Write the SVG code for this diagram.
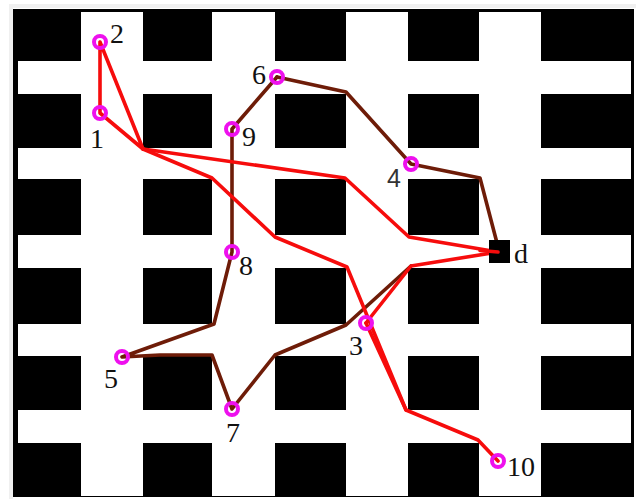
<svg xmlns="http://www.w3.org/2000/svg" width="636" height="499" viewBox="0 0 636 499">
<style>
.b{fill:#000}
.r{fill:none;stroke:#f60c0c;stroke-width:3.6;stroke-linejoin:round;stroke-linecap:round}
.m{fill:none;stroke:#6e1c08;stroke-width:3.6;stroke-linejoin:round;stroke-linecap:round}
.n{fill:none;stroke:#ee10ee;stroke-width:4}
text{font-family:"Liberation Serif",serif;font-size:28px;fill:#111}
</style>
<rect width="636" height="499" fill="#fff"/>
<path d="M9 4H636V8H13V499H9Z" fill="#f0f0f0"/>
<rect x="13" y="9" width="621" height="488" fill="#000"/>
<g id="grid">
<rect x="18" y="61" width="613" height="33" fill="#fff"/>
<rect x="18" y="148" width="613" height="31" fill="#fff"/>
<rect x="18" y="235" width="613" height="33" fill="#fff"/>
<rect x="18" y="324" width="613" height="32" fill="#fff"/>
<rect x="18" y="410" width="613" height="33" fill="#fff"/>
<rect x="81" y="12" width="62" height="484" fill="#fff"/>
<rect x="212" y="12" width="63" height="484" fill="#fff"/>
<rect x="346" y="12" width="62" height="484" fill="#fff"/>
<rect x="479" y="12" width="62" height="484" fill="#fff"/>
</g>
<g id="connectors">
<path class="m" d="M277 77L346 92L411 164L480 178L497 243"/>
<path class="m" d="M277 77L232 129V252L214 324L122 357L160 355L212 355L232 409L275 355L346 325L411 266"/>
<path class="r" d="M100 42V113L143 149L100 42"/>
<path class="r" d="M143 149L345 178L409 237L498 252"/>
<path class="r" d="M143 149L212 178L275 237L347 267L406 410L478 440L498 461"/>
<path class="r" d="M366 323L411 266L498 252"/>
<path class="r" d="M366 323L406 410" stroke-width="4.5"/>
</g>
<g id="node-1"><circle class="n" cx="100" cy="113" r="6"/><text x="90" y="148">1</text></g>
<g id="node-2"><circle class="n" cx="100" cy="42" r="6"/><text x="110" y="43">2</text></g>
<g id="node-3"><circle class="n" cx="366" cy="323" r="6"/><text x="349" y="355">3</text></g>
<g id="node-4"><circle class="n" cx="411" cy="164" r="6"/><text x="387" y="187" style="font-family:'Liberation Sans',sans-serif;font-size:25px;fill:#333">4</text></g>
<g id="node-5"><circle class="n" cx="122" cy="357" r="6"/><text x="104" y="388">5</text></g>
<g id="node-6"><circle class="n" cx="277" cy="77" r="6"/><text x="252" y="84">6</text></g>
<g id="node-7"><circle class="n" cx="232" cy="409" r="6"/><text x="226" y="442">7</text></g>
<g id="node-8"><circle class="n" cx="232" cy="252" r="6"/><text x="239" y="275">8</text></g>
<g id="node-9"><circle class="n" cx="232" cy="129" r="6"/><text x="242" y="146">9</text></g>
<g id="node-10"><circle class="n" cx="498" cy="461" r="6"/><text x="507" y="476">10</text></g>
<g id="node-d"><rect x="489" y="240" width="21" height="23" fill="#000"/><path class="r" d="M480 250.500L498 252"/><text x="514" y="263">d</text></g>
</svg>
